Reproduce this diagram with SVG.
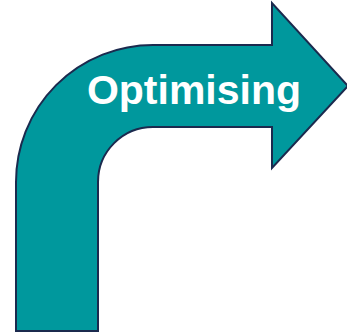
<svg xmlns="http://www.w3.org/2000/svg" width="347" height="335" viewBox="0 0 347 335">
  <style>
    .arrow { fill: #00989d; stroke: #1b2a4e; stroke-width: 2; stroke-linejoin: miter; }
    .label { font-family: "Liberation Sans", Arial, sans-serif; font-weight: bold; font-size: 41px; fill: #ffffff; }
  </style>
  <rect width="347" height="335" fill="#ffffff"/>
  <g id="bent-arrow">
    <!-- upward shaft bending right into an arrowhead -->
    <path class="arrow" d="M16,331 L16,182 A137,137 0 0 1 153,45 L272,45 L272,3 L348,86 L272,168 L272,127 L153,127 A55,55 0 0 0 98,182 L98,331 Z"/>
    <text class="label" x="194" y="104" text-anchor="middle">Optimising</text>
  </g>
</svg>
